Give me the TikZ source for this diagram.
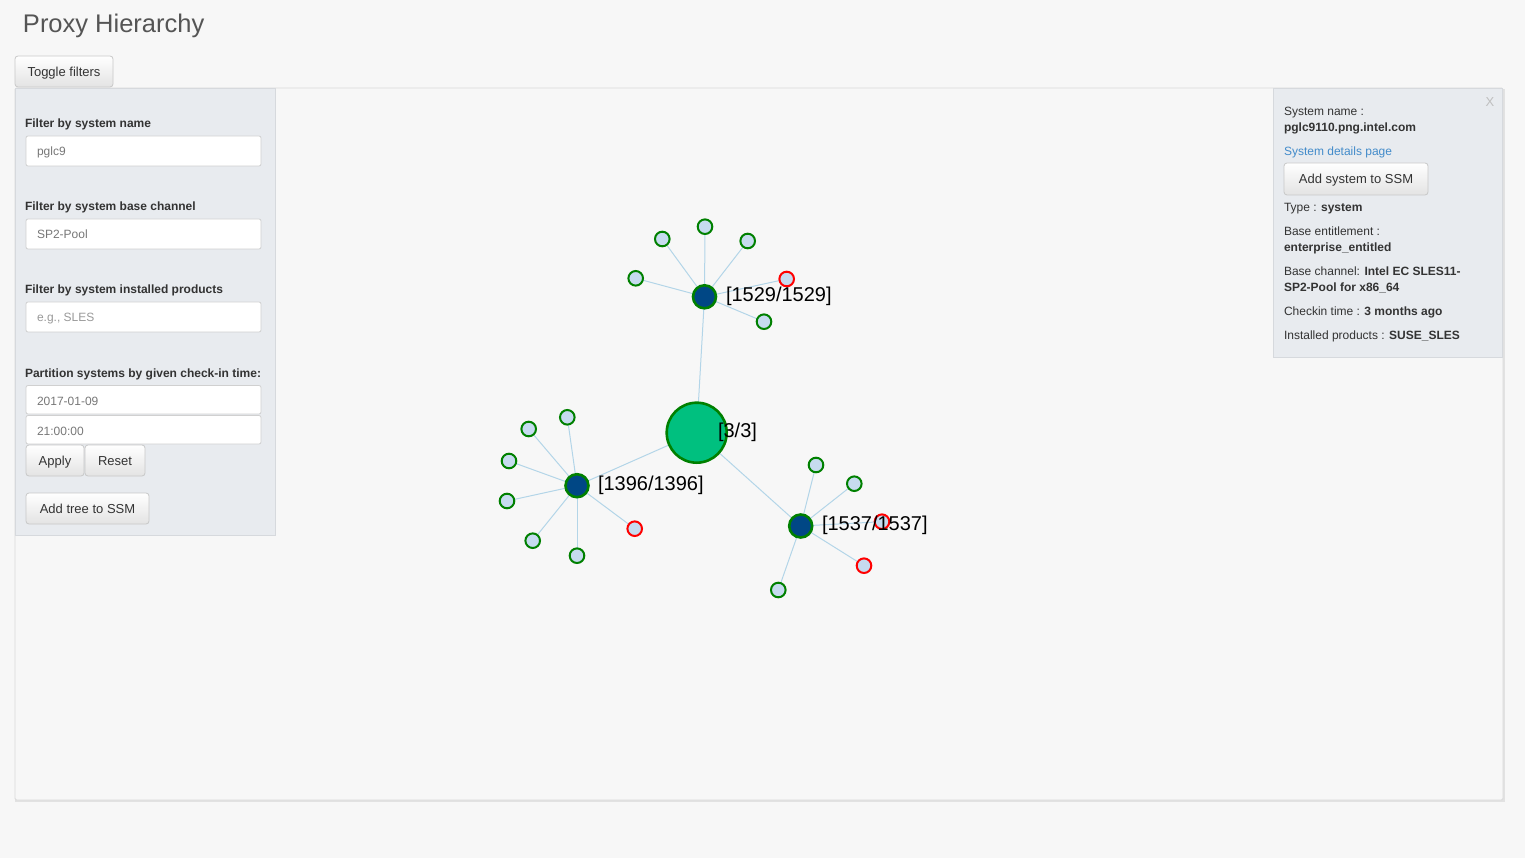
\documentclass[tikz,border=0pt]{standalone}
\usepackage{fontspec}
\setmainfont{Liberation Sans}
\definecolor{pagebg}{HTML}{F7F7F7}
\definecolor{panelbg}{HTML}{E8EBEF}
\definecolor{panelline}{HTML}{D6D9DD}
\definecolor{frameline}{HTML}{D9D9D9}
\definecolor{shadowc}{HTML}{E2E2E2}
\definecolor{txt}{HTML}{333333}
\definecolor{titlec}{HTML}{555555}
\definecolor{valc}{HTML}{777777}
\definecolor{phc}{HTML}{999999}
\definecolor{linkc}{HTML}{428BCA}
\definecolor{btnline}{HTML}{C8C8C8}
\definecolor{btnbot}{HTML}{E3E3E3}
\definecolor{inline}{HTML}{D0D0D0}
\definecolor{edgec}{HTML}{B3D5E8}
\definecolor{ringg}{HTML}{008000}
\definecolor{ringr}{HTML}{FF0000}
\definecolor{leaff}{HTML}{C6DBEF}
\definecolor{proxyf}{HTML}{004785}
\definecolor{rootf}{HTML}{00C07F}
\pgfdeclarelayer{back}
\pgfdeclarelayer{mid}
\pgfsetlayers{back,mid,main}
\begin{document}
\begin{tikzpicture}[x=1pt,y=-1pt,
  every node/.style={inner sep=0pt,outer sep=0pt},
  uitext/.style={font=\fontsize{12}{14}\selectfont,text=txt,anchor=base west},
  uibold/.style={uitext,font=\fontsize{12}{14}\selectfont\bfseries},
  inval/.style={font=\fontsize{12}{14}\selectfont,text=valc,anchor=base west},
  inph/.style={font=\fontsize{12}{14}\selectfont,text=phc,anchor=base west},
  inbox/.style={draw=inline,fill=white,rounded corners=2pt,line width=0.8pt},
  btn/.style={draw=btnline,top color=white,bottom color=btnbot,rounded corners=3pt,
    line width=0.8pt,font=\fontsize{13}{15}\selectfont,text=txt,minimum height=31pt,
    text height=9.3pt,text depth=0pt},
  edge/.style={draw=edgec,line width=1pt},
  leafg/.style={circle,draw=ringg,fill=leaff,line width=2pt,minimum size=14.6pt},
  leafr/.style={circle,draw=ringr,fill=leaff,line width=2pt,minimum size=14.6pt},
  proxy/.style={circle,draw=ringg,fill=proxyf,line width=2.6pt,minimum size=23pt},
  rootn/.style={circle,draw=ringg,fill=rootf,line width=2.6pt,minimum size=60pt},
  glabel/.style={font=\fontsize{20}{24}\selectfont,text=black,anchor=base west}]
\useasboundingbox (0,0) rectangle (1525,858);
\begin{pgfonlayer}{back}
  \fill[pagebg] (0,0) rectangle (1525,858);
  % main frame with soft shadow
  \fill[shadowc] (15,89) rectangle (1505,802);
  \filldraw[fill=pagebg,draw=frameline,line width=0.8pt,rounded corners=1.5pt] (15,88) rectangle (1503,800);
  % left filter panel
  \filldraw[fill=panelbg,draw=panelline,line width=0.8pt] (15.5,88.5) rectangle (275,535);
  % right info panel
  \filldraw[fill=panelbg,draw=panelline,line width=0.8pt] (1273,88.5) rectangle (1502.5,357);
  % input boxes
  \draw[inbox] (26,136) rectangle (261,166);
  \draw[inbox] (26,219) rectangle (261,249);
  \draw[inbox] (26,302) rectangle (261,332);
  \draw[inbox] (26,385.5) rectangle (261,414);
  \draw[inbox] (26,415.5) rectangle (261,444);
\end{pgfonlayer}

% title and toggle
\node[font=\fontsize{25.5}{30}\selectfont,text=titlec,anchor=base west] (title) at (23,33) {Proxy Hierarchy};
\node[btn,minimum width=98pt] (toggle) at (64,71.5) {Toggle filters};

% left panel
\node[uibold] (f1) at (25,128) {Filter by system name};
\node[inval] (v1) at (37,156) {pglc9};
\node[uibold] (f2) at (25,211) {Filter by system base channel};
\node[inval] (v2) at (37,239) {SP2-Pool};
\node[uibold] (f3) at (25,294) {Filter by system installed products};
\node[inph] (v3) at (37,322) {e.g., SLES};
\node[uibold] (f4) at (25,377) {Partition systems by given check-in time:};
\node[inval] (v4) at (37,405) {2017-01-09};
\node[inval] (v5) at (37,435) {21:00:00};
\node[btn,minimum width=58pt] (apply) at (55,460.5) {Apply};
\node[btn,minimum width=60pt] (reset) at (115,460.5) {Reset};
\node[btn,minimum width=123pt] (addtree) at (87.5,508.5) {Add tree to SSM};

% right panel
\node[font=\fontsize{13}{15}\selectfont,text=black!25] (close) at (1490,102) {X};
\node[uitext] (r1) at (1284,116) {System name :};
\node[uibold] (r2) at (1284,132) {pglc9110.png.intel.com};
\node[uitext,text=linkc] (r3) at (1284,156) {System details page};
\node[btn,minimum width=144pt,minimum height=32pt] (addsys) at (1356,179) {Add system to SSM};
\node[uitext] (r4) at (1284,212) {Type : \textbf{system}};
\node[uitext] (r5) at (1284,236) {Base entitlement :};
\node[uibold] (r6) at (1284,252) {enterprise\_entitled};
\node[uitext] (r7) at (1284,276) {Base channel: \textbf{Intel EC SLES11-}};
\node[uibold] (r8) at (1284,292) {SP2-Pool for x86\_64};
\node[uitext] (r9) at (1284,316) {Checkin time : \textbf{3 months ago}};
\node[uitext] (r10) at (1284,340) {Installed products : \textbf{SUSE\_SLES}};

% graph nodes
\node[rootn] (root) at (696.7,432.7) {};
\node[proxy] (p1) at (704.5,296.8) {};
\node[proxy] (p2) at (577,485.7) {};
\node[proxy] (p3) at (800.7,526) {};

\node[leafg] (a1) at (662.3,239) {};
\node[leafg] (a2) at (705,226.7) {};
\node[leafg] (a3) at (747.7,241) {};
\node[leafg] (a4) at (635.7,278.3) {};
\node[leafr] (a5) at (786.7,279) {};
\node[leafg] (a6) at (764,321.7) {};

\node[leafg] (b1) at (567.3,417.3) {};
\node[leafg] (b2) at (528.7,429) {};
\node[leafg] (b3) at (509,461) {};
\node[leafg] (b4) at (507,501) {};
\node[leafg] (b5) at (532.7,540.7) {};
\node[leafg] (b6) at (577,555.7) {};
\node[leafr] (b7) at (634.7,528.7) {};

\node[leafg] (c1) at (816,465) {};
\node[leafg] (c2) at (854.3,483.7) {};
\node[leafr] (c3) at (882,521.7) {};
\node[leafr] (c4) at (864,565.7) {};
\node[leafg] (c5) at (778.3,590) {};

\begin{pgfonlayer}{mid}
  \draw[edge] (root.center) -- (p1.center);
  \draw[edge] (root.center) -- (p2.center);
  \draw[edge] (root.center) -- (p3.center);
  \foreach \n in {a1,a2,a3,a4,a5,a6} \draw[edge] (p1.center) -- (\n.center);
  \foreach \n in {b1,b2,b3,b4,b5,b6,b7} \draw[edge] (p2.center) -- (\n.center);
  \foreach \n in {c1,c2,c3,c4,c5} \draw[edge] (p3.center) -- (\n.center);
\end{pgfonlayer}

% graph labels
\node[glabel] (lr) at (718,437) {[3/3]};
\node[glabel] (l1) at (726,302) {[1529/1529]};
\node[glabel] (l2) at (598,490) {[1396/1396]};
\node[glabel] (l3) at (822,530) {[1537/1537]};
\end{tikzpicture}
\end{document}
